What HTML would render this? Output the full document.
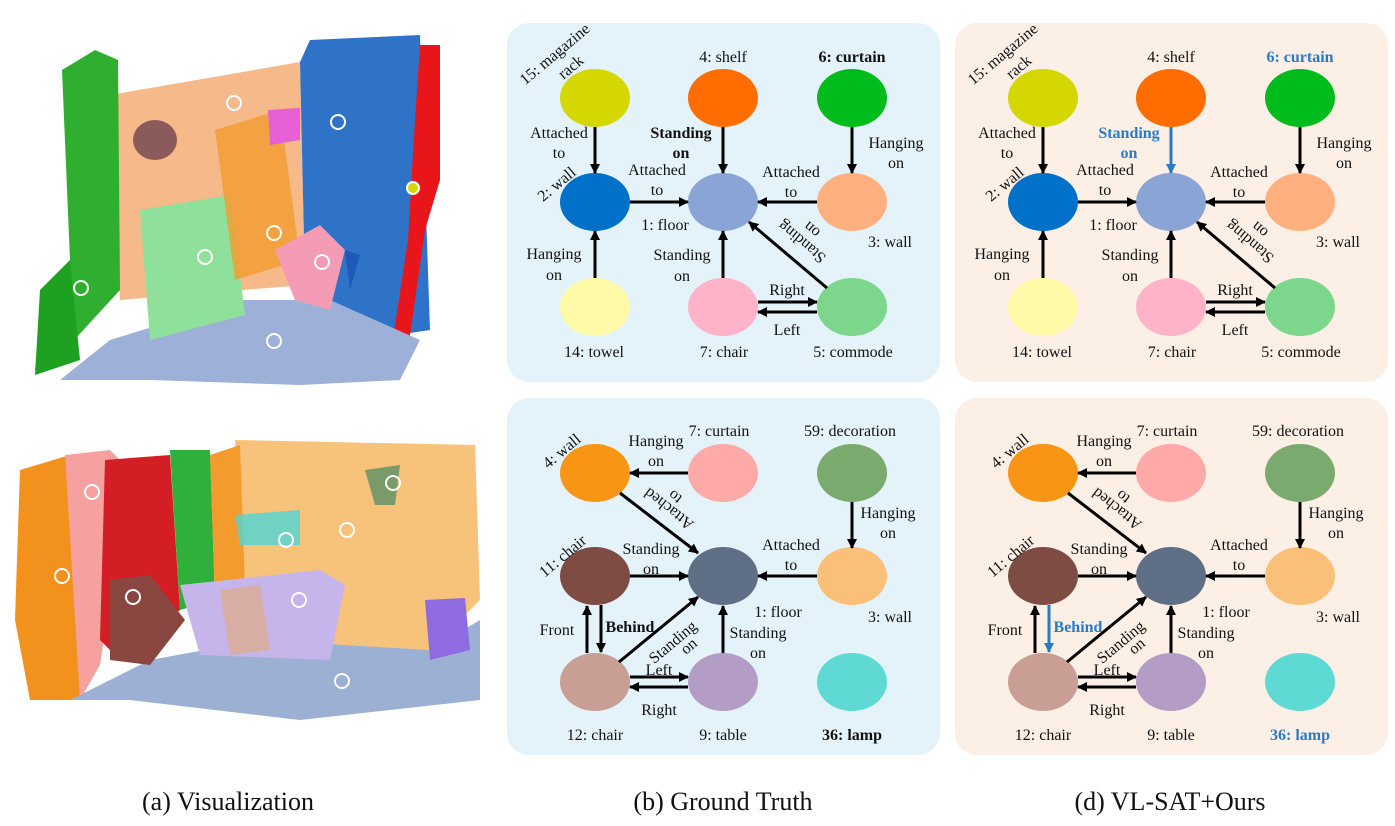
<!DOCTYPE html>
<html><head><meta charset="utf-8"><style>
html,body{margin:0;padding:0;background:#fff;}
svg{display:block;}
text{font-family:"Liberation Serif",serif;font-size:16px;fill:#111;text-anchor:middle;}
.b{font-weight:bold;}
.bl{fill:#2a7bc4;font-weight:bold;}
.cap{font-size:26px;}
line{stroke:#000;stroke-width:3;}
.lb{stroke:#2a7bc4;}
</style></head><body>
<svg width="1395" height="826" viewBox="0 0 1395 826" xmlns="http://www.w3.org/2000/svg">
<defs>
<marker id="ah" markerWidth="10" markerHeight="10" refX="9" refY="5" orient="auto" markerUnits="userSpaceOnUse" viewBox="0 0 10 10"><path d="M0,0 L10,5 L0,10 z" fill="#000"/></marker>
<marker id="ahb" markerWidth="10" markerHeight="10" refX="9" refY="5" orient="auto" markerUnits="userSpaceOnUse" viewBox="0 0 10 10"><path d="M0,0 L10,5 L0,10 z" fill="#2a7bc4"/></marker>
</defs>

<!-- (a) top scene -->
<g>
<polygon points="110,95 300,62 305,285 120,300" fill="#f6b98a"/>
<polygon points="300,62 310,40 420,35 430,330 330,345 305,285" fill="#2f73c9"/>
<polygon points="62,70 95,50 118,60 120,290 65,350 35,370 45,300 70,260" fill="#2fae2f"/>
<polygon points="40,290 70,260 80,360 35,375" fill="#1ea020"/>
<polygon points="420,45 440,45 440,180 425,230 405,370 392,345 408,240 415,120" fill="#e8151b"/>
<polygon points="60,380 110,340 240,300 330,300 420,340 400,380 300,385 150,380" fill="#9db0d8"/>
<polygon points="140,210 230,195 245,315 150,340" fill="#8fe09a"/>
<polygon points="215,130 280,110 300,260 235,280" fill="#f49b2e" opacity="0.8"/>
<polygon points="268,110 300,108 300,140 270,145" fill="#e75fd5"/>
<polygon points="275,250 320,225 345,250 330,310 295,300" fill="#f39bb4"/>
<ellipse cx="155" cy="140" rx="22" ry="20" fill="#8b5a5a"/>
<polygon points="345,250 360,255 350,290" fill="#1e5ab8"/>
<g fill="none" stroke="#fff" stroke-width="2">
<circle cx="234" cy="103" r="7"/><circle cx="338" cy="122" r="7"/><circle cx="413" cy="188" r="6" fill="#d8d800"/>
<circle cx="274" cy="233" r="7"/><circle cx="205" cy="257" r="7"/><circle cx="322" cy="262" r="7"/>
<circle cx="81" cy="288" r="7"/><circle cx="274" cy="341" r="7"/></g>
</g>
<!-- (a) bottom scene -->
<g>
<polygon points="235,440 475,445 480,600 430,650 260,640 240,560" fill="#f7c27a"/>
<polygon points="20,470 70,455 80,700 30,700 15,620" fill="#f2921d"/>
<polygon points="65,455 110,450 130,470 100,665 80,700" fill="#f4a1a0"/>
<polygon points="105,460 170,455 180,610 120,660 100,640" fill="#d41e25"/>
<polygon points="170,450 210,450 215,600 180,610" fill="#2fb03a"/>
<polygon points="210,455 240,445 245,590 215,600" fill="#f49b2e"/>
<polygon points="70,700 150,660 260,640 430,650 480,620 480,700 300,720 130,700" fill="#9cb0d3"/>
<polygon points="180,585 320,570 345,585 330,660 200,655" fill="#c5b5ea"/>
<polygon points="110,580 150,575 185,620 150,665 110,660" fill="#8a4640"/>
<polygon points="220,590 260,585 270,650 230,655" fill="#d8ada4"/>
<polygon points="425,600 465,598 470,650 430,660" fill="#8e6be0"/>
<polygon points="235,515 300,510 300,545 240,545" fill="#4fd6d6" opacity="0.8"/>
<polygon points="365,470 400,465 395,505 375,505" fill="#7b9a6a"/>
<g fill="none" stroke="#fff" stroke-width="2">
<circle cx="92" cy="492" r="7"/><circle cx="393" cy="483" r="7"/><circle cx="347" cy="530" r="7"/>
<circle cx="286" cy="540" r="7"/><circle cx="62" cy="576" r="7"/><circle cx="133" cy="597" r="7"/>
<circle cx="299" cy="600" r="7"/><circle cx="342" cy="681" r="7"/></g>
</g>

<!-- panel b top -->
<g>
<rect x="507" y="23" width="433" height="359" rx="22" fill="#e4f3fa"/>
<ellipse cx="595" cy="98" rx="35" ry="29" fill="#d4d800"/>
<ellipse cx="723" cy="98" rx="35" ry="29" fill="#ff6d00"/>
<ellipse cx="852" cy="98" rx="35" ry="29" fill="#00bb1c"/>
<ellipse cx="595" cy="202" rx="35" ry="29" fill="#0070c8"/>
<ellipse cx="723" cy="202" rx="35" ry="29" fill="#8aa4d6"/>
<ellipse cx="852" cy="202" rx="35" ry="29" fill="#ffb07e"/>
<ellipse cx="595" cy="307" rx="35" ry="29" fill="#fffaa8"/>
<ellipse cx="723" cy="307" rx="35" ry="29" fill="#ffb3c9"/>
<ellipse cx="852" cy="307" rx="35" ry="29" fill="#7cd68c"/>
<line x1="595" y1="127" x2="595" y2="173" marker-end="url(#ah)"/>
<line x1="723" y1="127" x2="723" y2="173" marker-end="url(#ah)"/>
<line x1="852" y1="127" x2="852" y2="173" marker-end="url(#ah)"/>
<line x1="630" y1="202" x2="688" y2="202" marker-end="url(#ah)"/>
<line x1="817" y1="202" x2="758" y2="202" marker-end="url(#ah)"/>
<line x1="595" y1="278" x2="595" y2="231" marker-end="url(#ah)"/>
<line x1="723" y1="278" x2="723" y2="231" marker-end="url(#ah)"/>
<line x1="827" y1="288" x2="749" y2="222" marker-end="url(#ah)"/>
<line x1="758" y1="302" x2="817" y2="302" marker-end="url(#ah)"/>
<line x1="817" y1="312" x2="758" y2="312" marker-end="url(#ah)"/>
<text transform="translate(558,58) rotate(-40)">15: magazine</text>
<text transform="translate(574,71) rotate(-40)">rack</text>
<text x="723" y="62">4: shelf</text>
<text x="852" y="62" class="b">6: curtain</text>
<text x="559" y="138">Attached</text><text x="559" y="158">to</text>
<text x="681" y="138" class="b">Standing</text><text x="681" y="158" class="b">on</text>
<text x="896" y="148">Hanging</text><text x="896" y="168">on</text>
<text transform="translate(560,188) rotate(-40)">2: wall</text>
<text x="657" y="175">Attached</text><text x="657" y="195">to</text>
<text x="791" y="177">Attached</text><text x="791" y="197">to</text>
<text x="665" y="230">1: floor</text>
<text x="890" y="247">3: wall</text>
<text transform="translate(805,238) rotate(220)">Standing</text>
<text transform="translate(815,226) rotate(220)">on</text>
<text x="554" y="259">Hanging</text><text x="554" y="280">on</text>
<text x="682" y="260">Standing</text><text x="682" y="281">on</text>
<text x="787" y="295">Right</text>
<text x="787" y="335">Left</text>
<text x="594" y="357">14: towel</text>
<text x="724" y="357">7: chair</text>
<text x="853" y="357">5: commode</text>
</g>

<!-- panel b bottom -->
<g>
<rect x="507" y="398" width="433" height="357" rx="22" fill="#e4f3fa"/>
<ellipse cx="595" cy="473" rx="35" ry="29" fill="#f99515"/>
<ellipse cx="723" cy="473" rx="35" ry="29" fill="#fdaaa9"/>
<ellipse cx="852" cy="473" rx="35" ry="29" fill="#7aaa6e"/>
<ellipse cx="595" cy="576" rx="35" ry="29" fill="#7e4c42"/>
<ellipse cx="723" cy="576" rx="35" ry="29" fill="#5f6f86"/>
<ellipse cx="852" cy="576" rx="35" ry="29" fill="#fac079"/>
<ellipse cx="595" cy="682" rx="35" ry="29" fill="#c99e94"/>
<ellipse cx="723" cy="682" rx="35" ry="29" fill="#b39dc4"/>
<ellipse cx="852" cy="682" rx="35" ry="29" fill="#5ed9d3"/>
<line x1="688" y1="473" x2="630" y2="473" marker-end="url(#ah)"/>
<line x1="620" y1="493" x2="698" y2="553" marker-end="url(#ah)"/>
<line x1="852" y1="502" x2="852" y2="548" marker-end="url(#ah)"/>
<line x1="630" y1="576" x2="688" y2="576" marker-end="url(#ah)"/>
<line x1="817" y1="576" x2="758" y2="576" marker-end="url(#ah)"/>
<line x1="601" y1="605" x2="601" y2="652" marker-end="url(#ah)"/>
<line x1="587" y1="653" x2="587" y2="606" marker-end="url(#ah)"/>
<line x1="619" y1="662" x2="698" y2="597" marker-end="url(#ah)"/>
<line x1="723" y1="653" x2="723" y2="606" marker-end="url(#ah)"/>
<line x1="630" y1="677" x2="688" y2="677" marker-end="url(#ah)"/>
<line x1="688" y1="687" x2="630" y2="687" marker-end="url(#ah)"/>
<text transform="translate(565,455) rotate(-40)">4: wall</text>
<text x="719" y="436">7: curtain</text>
<text x="850" y="436">59: decoration</text>
<text x="656" y="446">Hanging</text><text x="656" y="466">on</text>
<text transform="translate(672,505) rotate(218)">Attached</text>
<text transform="translate(678,493) rotate(218)">to</text>
<text x="888" y="518">Hanging</text><text x="888" y="538">on</text>
<text x="651" y="554">Standing</text><text x="651" y="574">on</text>
<text x="791" y="550">Attached</text><text x="791" y="570">to</text>
<text transform="translate(566,560) rotate(-40)">11: chair</text>
<text x="778" y="617">1: floor</text>
<text x="890" y="622">3: wall</text>
<text x="557" y="635">Front</text>
<text x="630" y="632" class="b">Behind</text>
<text transform="translate(676,646) rotate(-40)">Standing</text>
<text transform="translate(692,650) rotate(-40)">on</text>
<text x="758" y="638">Standing</text><text x="758" y="658">on</text>
<text x="659" y="675">Left</text>
<text x="659" y="715">Right</text>
<text x="595" y="740">12: chair</text>
<text x="723" y="740">9: table</text>
<text x="852" y="740" class="b">36: lamp</text>
</g>

<!-- panel d top -->
<g transform="translate(448,0)">
<rect x="507" y="23" width="433" height="359" rx="22" fill="#fcefe6"/>
<ellipse cx="595" cy="98" rx="35" ry="29" fill="#d4d800"/>
<ellipse cx="723" cy="98" rx="35" ry="29" fill="#ff6d00"/>
<ellipse cx="852" cy="98" rx="35" ry="29" fill="#00bb1c"/>
<ellipse cx="595" cy="202" rx="35" ry="29" fill="#0070c8"/>
<ellipse cx="723" cy="202" rx="35" ry="29" fill="#8aa4d6"/>
<ellipse cx="852" cy="202" rx="35" ry="29" fill="#ffb07e"/>
<ellipse cx="595" cy="307" rx="35" ry="29" fill="#fffaa8"/>
<ellipse cx="723" cy="307" rx="35" ry="29" fill="#ffb3c9"/>
<ellipse cx="852" cy="307" rx="35" ry="29" fill="#7cd68c"/>
<line x1="595" y1="127" x2="595" y2="173" marker-end="url(#ah)"/>
<line class="lb" x1="723" y1="127" x2="723" y2="173" marker-end="url(#ahb)"/>
<line x1="852" y1="127" x2="852" y2="173" marker-end="url(#ah)"/>
<line x1="630" y1="202" x2="688" y2="202" marker-end="url(#ah)"/>
<line x1="817" y1="202" x2="758" y2="202" marker-end="url(#ah)"/>
<line x1="595" y1="278" x2="595" y2="231" marker-end="url(#ah)"/>
<line x1="723" y1="278" x2="723" y2="231" marker-end="url(#ah)"/>
<line x1="827" y1="288" x2="749" y2="222" marker-end="url(#ah)"/>
<line x1="758" y1="302" x2="817" y2="302" marker-end="url(#ah)"/>
<line x1="817" y1="312" x2="758" y2="312" marker-end="url(#ah)"/>
<text transform="translate(558,58) rotate(-40)">15: magazine</text>
<text transform="translate(574,71) rotate(-40)">rack</text>
<text x="723" y="62">4: shelf</text>
<text x="852" y="62" class="bl">6: curtain</text>
<text x="559" y="138">Attached</text><text x="559" y="158">to</text>
<text x="681" y="138" class="bl">Standing</text><text x="681" y="158" class="bl">on</text>
<text x="896" y="148">Hanging</text><text x="896" y="168">on</text>
<text transform="translate(560,188) rotate(-40)">2: wall</text>
<text x="657" y="175">Attached</text><text x="657" y="195">to</text>
<text x="791" y="177">Attached</text><text x="791" y="197">to</text>
<text x="665" y="230">1: floor</text>
<text x="890" y="247">3: wall</text>
<text transform="translate(805,238) rotate(220)">Standing</text>
<text transform="translate(815,226) rotate(220)">on</text>
<text x="554" y="259">Hanging</text><text x="554" y="280">on</text>
<text x="682" y="260">Standing</text><text x="682" y="281">on</text>
<text x="787" y="295">Right</text>
<text x="787" y="335">Left</text>
<text x="594" y="357">14: towel</text>
<text x="724" y="357">7: chair</text>
<text x="853" y="357">5: commode</text>
</g>

<!-- panel d bottom -->
<g transform="translate(448,0)">
<rect x="507" y="398" width="433" height="357" rx="22" fill="#fcefe6"/>
<ellipse cx="595" cy="473" rx="35" ry="29" fill="#f99515"/>
<ellipse cx="723" cy="473" rx="35" ry="29" fill="#fdaaa9"/>
<ellipse cx="852" cy="473" rx="35" ry="29" fill="#7aaa6e"/>
<ellipse cx="595" cy="576" rx="35" ry="29" fill="#7e4c42"/>
<ellipse cx="723" cy="576" rx="35" ry="29" fill="#5f6f86"/>
<ellipse cx="852" cy="576" rx="35" ry="29" fill="#fac079"/>
<ellipse cx="595" cy="682" rx="35" ry="29" fill="#c99e94"/>
<ellipse cx="723" cy="682" rx="35" ry="29" fill="#b39dc4"/>
<ellipse cx="852" cy="682" rx="35" ry="29" fill="#5ed9d3"/>
<line x1="688" y1="473" x2="630" y2="473" marker-end="url(#ah)"/>
<line x1="620" y1="493" x2="698" y2="553" marker-end="url(#ah)"/>
<line x1="852" y1="502" x2="852" y2="548" marker-end="url(#ah)"/>
<line x1="630" y1="576" x2="688" y2="576" marker-end="url(#ah)"/>
<line x1="817" y1="576" x2="758" y2="576" marker-end="url(#ah)"/>
<line class="lb" x1="601" y1="605" x2="601" y2="652" marker-end="url(#ahb)"/>
<line x1="587" y1="653" x2="587" y2="606" marker-end="url(#ah)"/>
<line x1="619" y1="662" x2="698" y2="597" marker-end="url(#ah)"/>
<line x1="723" y1="653" x2="723" y2="606" marker-end="url(#ah)"/>
<line x1="630" y1="677" x2="688" y2="677" marker-end="url(#ah)"/>
<line x1="688" y1="687" x2="630" y2="687" marker-end="url(#ah)"/>
<text transform="translate(565,455) rotate(-40)">4: wall</text>
<text x="719" y="436">7: curtain</text>
<text x="850" y="436">59: decoration</text>
<text x="656" y="446">Hanging</text><text x="656" y="466">on</text>
<text transform="translate(672,505) rotate(218)">Attached</text>
<text transform="translate(678,493) rotate(218)">to</text>
<text x="888" y="518">Hanging</text><text x="888" y="538">on</text>
<text x="651" y="554">Standing</text><text x="651" y="574">on</text>
<text x="791" y="550">Attached</text><text x="791" y="570">to</text>
<text transform="translate(566,560) rotate(-40)">11: chair</text>
<text x="778" y="617">1: floor</text>
<text x="890" y="622">3: wall</text>
<text x="557" y="635">Front</text>
<text x="630" y="632" class="bl">Behind</text>
<text transform="translate(676,646) rotate(-40)">Standing</text>
<text transform="translate(692,650) rotate(-40)">on</text>
<text x="758" y="638">Standing</text><text x="758" y="658">on</text>
<text x="659" y="675">Left</text>
<text x="659" y="715">Right</text>
<text x="595" y="740">12: chair</text>
<text x="723" y="740">9: table</text>
<text x="852" y="740" class="bl">36: lamp</text>
</g>

<text x="228" y="810" class="cap">(a) Visualization</text>
<text x="723" y="810" class="cap">(b) Ground Truth</text>
<text x="1170" y="810" class="cap">(d) VL-SAT+Ours</text>
</svg>
</body></html>
